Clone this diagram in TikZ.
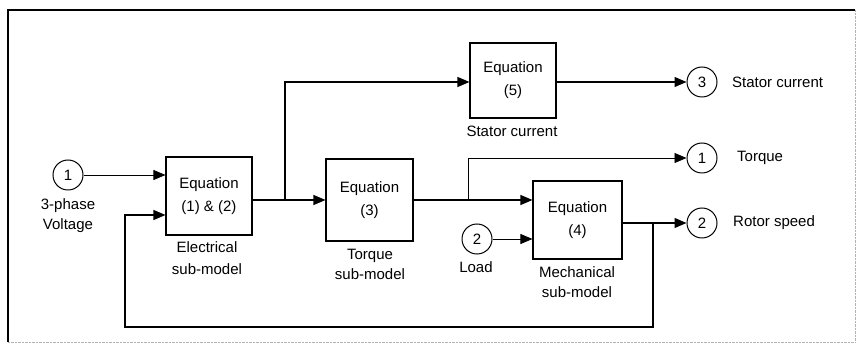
\documentclass[tikz,border=0pt]{standalone}
\usepackage{fontspec}
\setmainfont{Liberation Sans}
\usetikzlibrary{arrows.meta}
\begin{document}
\begin{tikzpicture}[x=1pt,y=-1pt,
  eqbox/.style={draw,line width=1.1pt,minimum width=86pt,minimum height=78pt,inner sep=0pt,align=center,font=\fontsize{15}{23}\selectfont},
  port/.style={draw,circle,line width=1pt,minimum size=30pt,inner sep=0pt,font=\fontsize{15}{16}\selectfont},
  lbl/.style={align=center,font=\fontsize{15}{21}\selectfont,inner sep=0pt},
  arr/.style={line width=1.1pt,-{Triangle[length=12pt,width=10pt]}},
  thinarr/.style={line width=0.8pt,-{Triangle[length=12pt,width=10pt]}}]
\useasboundingbox (0,0) rectangle (863,363);
% frame
\draw[line width=1.6pt] (8,342) -- (8,10) -- (855,10);
\draw[line width=0.4pt,gray!60,densely dotted] (855,10) -- (855,342) -- (8,342);
% nodes
\node[port] (in1) at (68,175) {1};
\node[lbl,anchor=base,font=\fontsize{15}{20}\selectfont] (in1l) at (68,230) {3-phase\\Voltage};
\node[eqbox] (elec) at (209,196) {Equation\\(1) \& (2)};
\node[lbl,anchor=base,font=\fontsize{15}{22}\selectfont] (elecl) at (207,275) {Electrical\\sub-model};
\node[eqbox,minimum width=87pt,minimum height=82pt] (torq) at (369.5,200) {Equation\\(3)};
\node[lbl,anchor=base,font=\fontsize{15}{20}\selectfont] (torql) at (370,280) {Torque\\sub-model};
\node[eqbox,minimum width=86pt,minimum height=75pt] (stat) at (513,80.5) {Equation\\(5)};
\node[lbl,anchor=base] (statl) at (512,137) {Stator current};
\node[eqbox,minimum width=89pt,minimum height=78pt] (mech) at (577.5,220) {Equation\\(4)};
\node[lbl,anchor=base,font=\fontsize{15}{20}\selectfont] (mechl) at (577,298) {Mechanical\\sub-model};
\node[port] (load) at (477,239) {2};
\node[lbl,anchor=base] (loadl) at (476,273) {Load};
\node[port] (out3) at (702,82) {3};
\node[lbl,anchor=west] (out3l) at (732,82) {Stator current};
\node[port] (out1) at (702,158) {1};
\node[lbl,anchor=west] (out1l) at (737,158) {Torque};
\node[port] (out2) at (702,223) {2};
\node[lbl,anchor=west] (out2l) at (733,223) {Rotor speed};
% coordinates
\coordinate (b1) at (285,200);
\coordinate (b2) at (468,200);
\coordinate (b3) at (653,223);
\coordinate (fb1) at (653,327);
\coordinate (fb2) at (125,327);
\coordinate (fb3) at (125,215);
% connectors
\draw[thinarr] (in1.east) -- (elec.west |- in1.east);
\draw[arr] (elec.east |- b1) -- (torq.west |- b1);
\draw[arr] (b1) |- (stat.west |- out3);
\draw[arr] (stat.east |- out3) -- (out3.west);
\draw[arr] (torq.east |- b2) -- (mech.west |- b2);
\draw[thinarr] (b2) |- (out1.west);
\draw[thinarr] (load.east) -- (mech.west |- load.east);
\draw[arr] (mech.east |- b3) -- (out2.west);
\draw[arr] (b3) -- (fb1) -- (fb2) -- (fb3) -- (elec.west |- fb3);
\end{tikzpicture}
\end{document}
